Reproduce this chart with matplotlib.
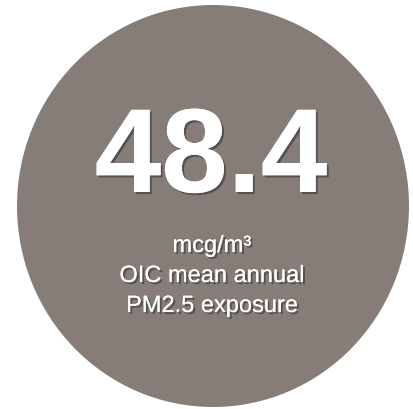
import matplotlib
matplotlib.use("Agg")
import matplotlib.pyplot as plt
import matplotlib.patheffects as pe
from matplotlib.patches import Ellipse

value = 48.4
unit = "mcg/m³"
caption = ["OIC mean annual", "PM2.5 exposure"]

bg = "#877d78"
shadow = [pe.withSimplePatchShadow(offset=(1.5, -1.5), shadow_rgbFace="black", alpha=0.35), pe.Normal()]

fig = plt.figure(figsize=(4.14, 4.09), dpi=100)
ax = fig.add_axes([0, 0, 1, 1])
ax.set_xlim(0, 414)
ax.set_ylim(409, 0)
ax.axis("off")

ax.add_patch(Ellipse((213, 206), 392, 402, color=bg, lw=0))

ax.text(211, 192, f"{value:.1f}", ha="center", va="baseline", color="white",
        fontsize=86, fontweight="bold", family="Liberation Sans", path_effects=shadow)

lines = [unit] + caption
for i, t in enumerate(lines):
    ax.text(212, 252 + i * 30, t, ha="center", va="baseline", color="white",
            fontsize=17, family="Liberation Sans", path_effects=shadow)

fig.savefig("out.png", dpi=100)
